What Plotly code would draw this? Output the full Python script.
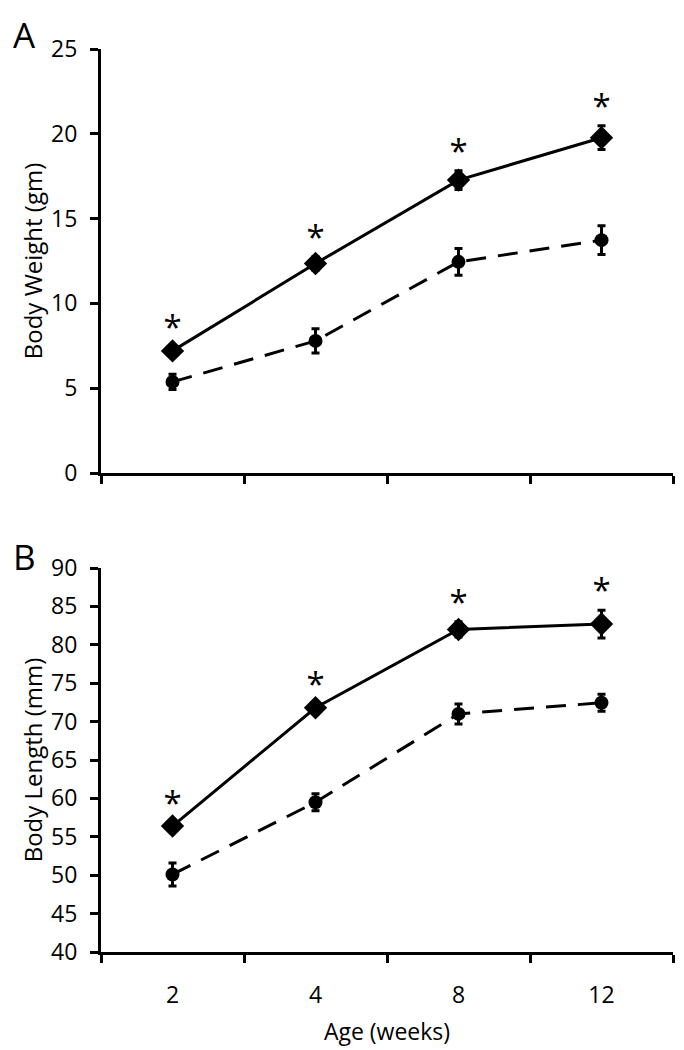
import plotly.graph_objects as go

# ---- data ----
ages = ["2", "4", "8", "12"]

weight_solid = [7.2, 12.35, 17.27, 19.77]
weight_solid_err = [0.2, 0.4, 0.55, 0.7]
weight_dashed = [5.37, 7.79, 12.45, 13.73]
weight_dashed_err = [0.45, 0.72, 0.79, 0.85]

length_solid = [56.4, 71.8, 82.0, 82.7]
length_solid_err = [0.4, 0.5, 1.0, 1.8]
length_dashed = [50.1, 59.5, 71.0, 72.45]
length_dashed_err = [1.5, 1.1, 1.3, 1.1]

signif_weight = ["*", "*", "*", "*"]
signif_length = ["*", "*", "*", "*"]

FONT = "Open Sans"
W, H = 684, 1050
OFF = 8  # page body margin compensation

fig = go.Figure()


def add_series(y, err, symbol, size, dash, xa, ya):
    fig.add_trace(go.Scatter(
        x=ages, y=y, xaxis=xa, yaxis=ya, mode="lines+markers",
        line=dict(color="black", width=3, dash=dash),
        marker=dict(symbol=symbol, size=size, color="black"),
        error_y=dict(type="data", array=err, visible=True, color="black",
                     thickness=3, width=4),
        showlegend=False, hoverinfo="skip",
    ))


def add_stars(y, err, marks, xa, ya):
    fig.add_trace(go.Scatter(
        x=ages, y=[v + e for v, e in zip(y, err)], xaxis=xa, yaxis=ya,
        mode="text", text=marks, textposition="top center",
        textfont=dict(family=FONT, size=33, color="black"),
        showlegend=False, hoverinfo="skip",
    ))


add_series(weight_dashed, weight_dashed_err, "circle", 14, "20px,12px", "x", "y")
add_series(weight_solid, weight_solid_err, "diamond", 18, "solid", "x", "y")
add_stars(weight_solid, weight_solid_err, signif_weight, "x", "y")
add_series(length_dashed, length_dashed_err, "circle", 14, "20px,12px", "x2", "y2")
add_series(length_solid, length_solid_err, "diamond", 18, "solid", "x2", "y2")
add_stars(length_solid, length_solid_err, signif_length, "x2", "y2")

annotations = [
    dict(x=(24 - OFF) / W, y=1 - (35 - OFF) / H, xref="paper", yref="paper", text="A",
         showarrow=False, xanchor="center", yanchor="middle",
         font=dict(family=FONT, size=35, color="black")),
    dict(x=(24 - OFF) / W, y=1 - (556 - OFF) / H, xref="paper", yref="paper", text="B",
         showarrow=False, xanchor="center", yanchor="middle",
         font=dict(family=FONT, size=35, color="black")),
]

axis_common = dict(
    showline=True, linecolor="black", linewidth=3, mirror=False,
    ticks="outside", ticklen=8, tickwidth=3, tickcolor="black",
    showgrid=False, zeroline=False, automargin=False,
    tickfont=dict(family=FONT, size=23, color="black"),
)

x_dom = [(101 - OFF) / W, (673 - OFF) / W]

fig.update_layout(
    width=W, height=H, margin=dict(l=0, r=0, t=0, b=0),
    paper_bgcolor="white", plot_bgcolor="white",
    annotations=annotations,
    xaxis=dict(**axis_common, domain=x_dom, anchor="y", type="category",
               categoryorder="array", categoryarray=ages,
               range=[-0.5, 3.5], tickson="boundaries", showticklabels=False),
    yaxis=dict(**axis_common, domain=[1 - (473 - OFF) / H, 1 - (49 - OFF) / H], anchor="x",
               range=[0, 25], tickvals=[0, 5, 10, 15, 20, 25], ticklabelstandoff=8,
               title=dict(text="Body Weight (gm)", standoff=2,
                          font=dict(family=FONT, size=24, color="black"))),
    xaxis2=dict(**axis_common, domain=x_dom, anchor="y2", type="category",
                categoryorder="array", categoryarray=ages,
                range=[-0.5, 3.5], tickson="boundaries", ticklabelstandoff=20,
                title=dict(text="Age (weeks)", standoff=16,
                           font=dict(family=FONT, size=23, color="black"))),
    yaxis2=dict(**axis_common, domain=[1 - (952 - OFF) / H, 1 - (568 - OFF) / H], anchor="x2",
                range=[40, 90], tickvals=list(range(40, 91, 5)), ticklabelstandoff=8,
                title=dict(text="Body Length (mm)", standoff=2,
                           font=dict(family=FONT, size=24, color="black"))),
)

fig.write_html("out.html")
